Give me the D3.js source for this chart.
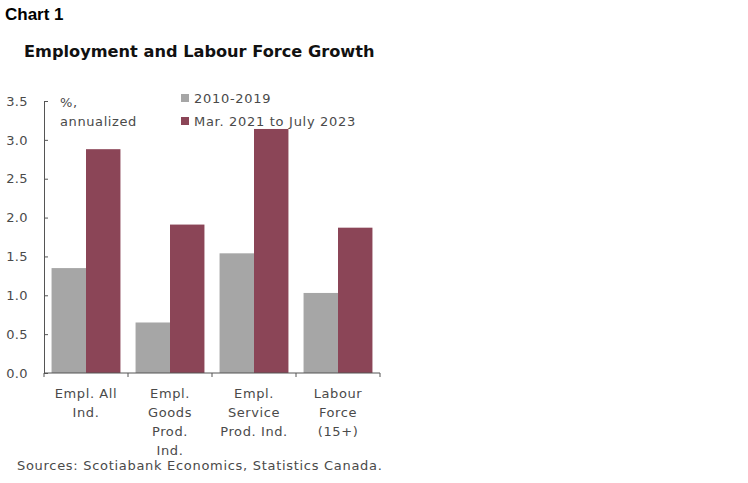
<!DOCTYPE html>
<html>
<head>
<meta charset="utf-8">
<script src="https://cdn.jsdelivr.net/npm/d3@7"></script>
<style>
  body { margin: 0; background: #fff; }
</style>
</head>
<body>
<div id="chart"></div>
<script>
const categories = [
    ["Empl. All", "Ind."],
    ["Empl.", "Goods", "Prod.", "Ind."],
    ["Empl.", "Service", "Prod. Ind."],
    ["Labour", "Force", "(15+)"]
];
const seriesNames = ["2010-2019", "Mar. 2021 to July 2023"];
const values2010 = [1.35, 0.65, 1.54, 1.03];
const values2021 = [2.88, 1.91, 3.14, 1.87];
const yTicks = [0, 0.5, 1, 1.5, 2, 2.5, 3, 3.5];
const colors = ["#a6a6a6", "#8b4557"];

const width = 748, height = 483;
const font = "DejaVu Sans, sans-serif";
const textColor = "#4a4a4a";
const svg = d3.select("#chart").append("svg")
    .attr("width", width)
    .attr("height", height)
    .attr("font-family", font);

svg.append("text")
    .attr("x", 5).attr("y", 20)
    .attr("font-weight", "bold")
    .attr("font-family", "Liberation Sans Narrow, Liberation Sans, sans-serif")
    .attr("font-size", 17)
    .text("Chart 1");

svg.append("text")
    .attr("x", 24).attr("y", 57)
    .attr("font-size", 16.2).attr("font-weight", "bold")
    .attr("fill", "#111")
    .text("Employment and Labour Force Growth");

const x0 = d3.scaleBand()
    .domain(d3.range(categories.length))
    .range([44, 380])
    .paddingInner(0.18)
    .paddingOuter(0.09);

const x1 = d3.scaleBand()
    .domain([0, 1])
    .range([0, x0.bandwidth()]);

const y = d3.scaleLinear()
    .domain([0, 3.5])
    .range([373, 101]);

const data = categories.map((c, i) => [values2010[i], values2021[i]]);

svg.append("g")
    .selectAll("g.cat")
    .data(data)
    .join("g")
    .attr("class", "cat")
    .attr("transform", (d, i) => `translate(${x0(i)},0)`)
    .selectAll("rect")
    .data(d => d)
    .join("rect")
    .attr("x", (d, j) => x1(j))
    .attr("width", x1.bandwidth())
    .attr("y", d => y(d))
    .attr("height", d => y(0) - y(d))
    .attr("fill", (d, j) => colors[j]);

// y axis, ticks point inward
const yAxis = svg.append("g")
    .attr("transform", "translate(44,0)")
    .call(d3.axisRight(y).tickValues(yTicks).tickSize(4).tickFormat(d3.format(".1f")));
yAxis.select(".domain").attr("stroke", "#555");
yAxis.selectAll(".tick line").attr("stroke", "#555");
yAxis.selectAll(".tick text")
    .attr("x", -16)
    .attr("text-anchor", "end")
    .attr("font-size", 13)
    .attr("font-family", font)
    .attr("letter-spacing", 0.4)
    .attr("fill", textColor);

// x axis with ticks between categories
const boundaries = d3.range(categories.length + 1).map(i => 44 + i * (380 - 44) / categories.length);
svg.append("line")
    .attr("x1", 44).attr("x2", 380)
    .attr("y1", y(0)).attr("y2", y(0))
    .attr("stroke", "#555");
svg.selectAll("line.xtick")
    .data(boundaries)
    .join("line")
    .attr("class", "xtick")
    .attr("x1", d => d).attr("x2", d => d)
    .attr("y1", y(0)).attr("y2", y(0) + 4)
    .attr("stroke", "#555");

svg.selectAll("text.xlabel")
    .data(categories)
    .join("text")
    .attr("class", "xlabel")
    .attr("text-anchor", "middle")
    .attr("font-size", 13)
    .attr("letter-spacing", 0.6)
    .attr("fill", textColor)
    .attr("transform", (d, i) => `translate(${x0(i) + x0.bandwidth() / 2},398)`)
    .selectAll("tspan")
    .data(d => d)
    .join("tspan")
    .attr("x", 0)
    .attr("dy", (d, k) => k === 0 ? 0 : 19)
    .text(d => d);

// unit label
svg.append("text")
    .attr("x", 60).attr("y", 107)
    .attr("font-size", 13).attr("fill", textColor)
    .attr("letter-spacing", 0.6)
    .text("%,");
svg.append("text")
    .attr("x", 60).attr("y", 126)
    .attr("font-size", 13).attr("fill", textColor)
    .attr("letter-spacing", 0.6)
    .text("annualized");

// legend
const legend = svg.append("g")
    .selectAll("g")
    .data(seriesNames)
    .join("g")
    .attr("transform", (d, i) => `translate(181,${98 + i * 23})`);
legend.append("rect")
    .attr("x", 0).attr("y", -4)
    .attr("width", 8).attr("height", 8)
    .attr("fill", (d, i) => colors[i]);
legend.append("text")
    .attr("x", 13).attr("y", 5)
    .attr("font-size", 13).attr("fill", textColor)
    .attr("letter-spacing", 0.7)
    .text(d => d);

svg.append("text")
    .attr("x", 17).attr("y", 470)
    .attr("font-size", 13).attr("fill", textColor)
    .attr("letter-spacing", 0.7)
    .text("Sources: Scotiabank Economics, Statistics Canada.");
</script>
</body>
</html>
